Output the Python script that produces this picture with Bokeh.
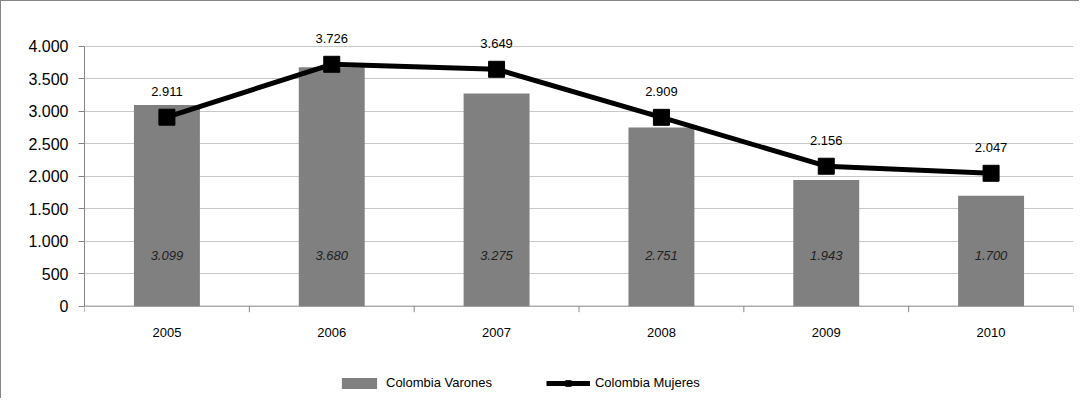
from bokeh.plotting import figure
from bokeh.models import (Range1d, FixedTicker, Legend, LegendItem, ColumnDataSource, LabelSet, Span)
from bokeh.core.properties import value
from bokeh.embed import file_html
from bokeh.resources import INLINE

years = ["2005", "2006", "2007", "2008", "2009", "2010"]
varones = [3099, 3680, 3275, 2751, 1943, 1700]
mujeres = [2911, 3726, 3649, 2909, 2156, 2047]
y_ticks = [0, 500, 1000, 1500, 2000, 2500, 3000, 3500, 4000]


def fmt(v):
    return f"{v:,}".replace(",", ".")


n = len(years)
xs = [i + 0.5 for i in range(n)]
src = ColumnDataSource(dict(
    x=xs, v=varones, m=mujeres, zero=[0] * n, yr=years,
    vlab=[fmt(v) for v in varones],
    mlab=[fmt(v) for v in mujeres],
    vy=[780] * n,
))
bounds = list(range(n + 1))
TICK = 92  # 6 px tick length in data units
tick_src = ColumnDataSource(dict(x=bounds, y0=[0] * (n + 1), y1=[-TICK] * (n + 1)))

FONT = "Liberation Sans"
GRAY = "#868686"

p = figure(width=1079, height=398, output_backend="svg", toolbar_location=None,
           x_range=Range1d(0, n), y_range=Range1d(-1437, 4539),
           min_border_left=83, min_border_right=7, min_border_top=10, min_border_bottom=0,
           styles={"border-top": "1px solid #868686", "border-left": "1px solid #868686"})
p.outline_line_color = None
p.background_fill_color = "white"
p.border_fill_color = "white"
p.xaxis.visible = False

# y axis
p.yaxis.ticker = FixedTicker(ticks=y_ticks)
p.yaxis.bounds = (0, 4000)
p.yaxis.major_label_overrides = {t: fmt(t) for t in y_ticks}
p.yaxis.axis_line_color = GRAY
p.yaxis.major_tick_line_color = GRAY
p.yaxis.major_tick_out = 6
p.yaxis.major_tick_in = 0
p.yaxis.minor_tick_line_color = None
p.yaxis.major_label_text_font = FONT
p.yaxis.major_label_text_font_size = "16px"
p.yaxis.major_label_text_color = "black"
p.yaxis.major_label_standoff = 10

p.xgrid.grid_line_color = None
p.ygrid.ticker = FixedTicker(ticks=y_ticks[1:])
p.ygrid.grid_line_color = "#c8c8c8"
p.ygrid.grid_line_width = 1

# category axis drawn in the frame
p.add_layout(Span(location=0, dimension="width", line_color=GRAY, line_width=1))
p.segment(x0="x", y0="y0", x1="x", y1="y1", source=tick_src, line_color=GRAY, line_width=1)
p.add_layout(LabelSet(x="x", y="zero", text="yr", source=src, text_font=value(FONT),
                      text_font_size=value("13px"), text_align="center", text_baseline="middle",
                      y_offset=-26, text_color="black"))

bars = p.vbar(x="x", top="v", width=0.4, source=src, fill_color="#808080", line_color=None)
line = p.line(x="x", y="m", source=src, line_color="black", line_width=5)
marks = p.scatter(x="x", y="m", source=src, marker="square", size=16,
                  fill_color="black", line_color="black")

p.add_layout(LabelSet(x="x", y="vy", text="vlab", source=src, text_font=value(FONT),
                      text_font_size=value("13px"), text_font_style="italic",
                      text_align="center", text_baseline="middle", text_color="#222222"))
p.add_layout(LabelSet(x="x", y="m", text="mlab", source=src, text_font=value(FONT),
                      text_font_size=value("13px"), text_align="center", text_baseline="middle",
                      y_offset=26, text_color="black"))

legend = Legend(items=[LegendItem(label="Colombia Varones", renderers=[bars]),
                       LegendItem(label="Colombia Mujeres", renderers=[line, marks])],
                orientation="horizontal", location=(253, 9),
                glyph_width=44, glyph_height=14, label_standoff=5, spacing=54,
                padding=0, margin=0, border_line_color=None, background_fill_alpha=0,
                label_text_font=FONT, label_text_font_size="13px", label_text_color="black")
p.add_layout(legend, "center")

open("out.html", "w").write(file_html(p, INLINE))
